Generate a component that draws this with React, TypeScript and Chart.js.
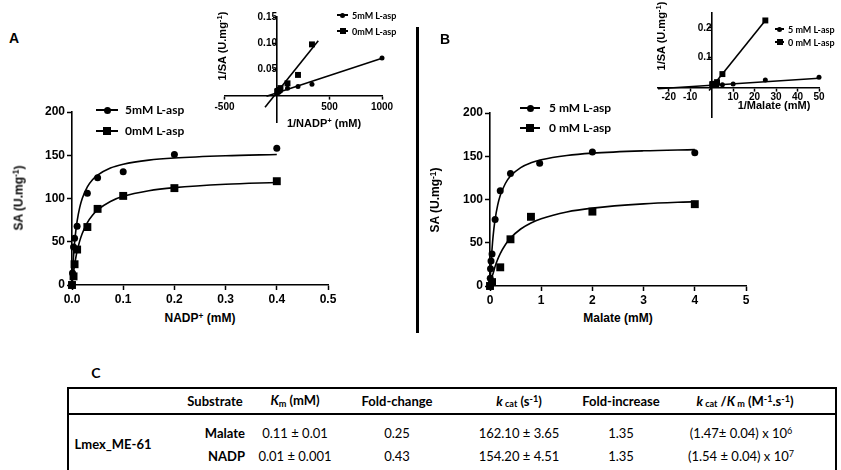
import React, { useEffect, useRef } from "react";
import { Chart, registerables } from "chart.js";
Chart.register(...registerables);

// ---------- Panel A : NADP+ ----------
const nadp5X = [0, 0.001, 0.003, 0.005, 0.01, 0.03, 0.05, 0.1, 0.2, 0.4];
const nadp5Y = [0, 14, 44, 54, 68, 106, 124, 131, 151, 158];
const nadp0X = [0, 0.003, 0.005, 0.01, 0.03, 0.05, 0.1, 0.2, 0.4];
const nadp0Y = [0, 10, 24, 41, 67, 88, 103, 112, 120];
const nadpFitX = [0, 0.0025, 0.005, 0.0075, 0.01, 0.015, 0.02, 0.03, 0.04, 0.05, 0.075, 0.1, 0.15, 0.2, 0.3, 0.4];
const nadpFit5 = [0, 28.7, 48.4, 62.8, 73.8, 89.4, 100, 113.4, 121.6, 127, 135.2, 139.6, 144.4, 146.9, 149.5, 150.9];
const nadpFit0 = [0, 12.8, 23.1, 31.8, 39.1, 50.7, 59.5, 72.1, 80.6, 86.8, 96.6, 102.5, 109, 112.6, 116.5, 118.5];
const nadpXTicks = [0, 0.1, 0.2, 0.3, 0.4, 0.5];
const nadpXLabels = ["0.0", "0.1", "0.2", "0.3", "0.4", "0.5"];
const saTicks = [0, 50, 100, 150, 200];
const saLabels = ["0", "50", "100", "150", "200"];

// Inset A : Lineweaver-Burk
const lbA5X = [1000, 333, 200, 100, 33, 20, 10, 5, 2.5];
const lbA5Y = [0.072, 0.0225, 0.018, 0.0146, 0.0094, 0.0081, 0.0077, 0.0066, 0.0063];
const lbA0X = [333, 200, 100, 33, 20, 10, 5, 2.5];
const lbA0Y = [0.098, 0.04, 0.024, 0.015, 0.0114, 0.0097, 0.0089, 0.0083];
const lineA5X = [-100, 1000];
const lineA5Y = [-0.0005, 0.0716];
const lineA0X = [-114, 393];
const lineA0Y = [-0.0215, 0.105];
const insetAXTicks = [-500, 500, 1000];
const insetAXLabels = ["-500", "500", "1000"];
const insetAYTicks = [0.05, 0.1, 0.15];
const insetAYLabels = ["0.05", "0.10", "0.15"];

// ---------- Panel B : Malate ----------
const mal5X = [0, 0.005, 0.01, 0.02, 0.04, 0.1, 0.2, 0.4, 0.97, 2, 4];
const mal5Y = [0, 9, 20, 29, 37, 77, 110, 130, 142, 155, 154];
const mal0X = [0, 0.04, 0.2, 0.4, 0.8, 2, 4];
const mal0Y = [0, 4.5, 21.6, 54, 80, 86, 94.6];
const malFitX = [0, 0.0125, 0.025, 0.05, 0.075, 0.1, 0.15, 0.2, 0.3, 0.4, 0.6, 0.8, 1, 1.5, 2, 3, 4];
const malFit5 = [0, 16.5, 30, 50.6, 65.7, 77.1, 93.5, 104.5, 118.5, 127.1, 136.9, 142.4, 145.9, 150.9, 153.6, 156.3, 157.7];
const malFit0 = [0, 3.5, 6.7, 12.7, 17.2, 22.7, 30.8, 37.5, 47.7, 55.4, 65.9, 72.9, 77.8, 85.6, 90, 94.9, 97.6];
const malXTicks = [0, 1, 2, 3, 4, 5];
const malXLabels = ["0", "1", "2", "3", "4", "5"];

// Inset B : Lineweaver-Burk
const lbB5X = [50, 25, 10, 5, 2.5, 1, 0.5, 0.25];
const lbB5Y = [0.034, 0.025, 0.012, 0.009, 0.0077, 0.007, 0.0065, 0.0065];
const lbB0X = [25, 5, 2.5, 1.25, 0.5, 0.25];
const lbB0Y = [0.225, 0.045, 0.018, 0.0125, 0.0116, 0.0105];
const lineB5X = [-25, 50];
const lineB5Y = [-0.004, 0.031];
const lineB0X = [-1.2, 25];
const lineB0Y = [-0.01, 0.225];
const insetBXTicks = [-20, -10, 10, 20, 30, 40, 50];
const insetBXLabels = ["-20", "-10", "10", "20", "30", "40", "50"];
const insetBYTicks = [0.1, 0.2];
const insetBYLabels = ["0.1", "0.2"];

// Legends
const legendA = ["5mM L-asp", "0mM L-asp"];
const legendB = ["5 mM L-asp", "0 mM L-asp"];

// Table C
const tableHeaders = ["Substrate", "Km (mM)", "Fold-change", "kcat (s-1)", "Fold-increase", "kcat/Km (M-1.s-1)"];
const enzymeName = "Lmex_ME-61";
const substrates = ["Malate", "NADP"];
const kmValues = ["0.11 \u00b1 0.01", "0.01 \u00b1 0.001"];
const foldChanges = ["0.25", "0.43"];
const kcatValues = ["162.10 \u00b1 3.65", "154.20 \u00b1 4.51"];
const foldIncreases = ["1.35", "1.35"];
const effMantissa = ["(1.47\u00b1 0.04) x 10", "(1.54 \u00b1 0.04) x 10"];
const effExponent = ["6", "7"];

const CHART_FONT = "'Liberation Sans', Arial, sans-serif";
const TEXT_FONT = "Lato, 'Open Sans', sans-serif";

const zip = (xs: number[], ys: number[]) => xs.map((x, i) => ({ x, y: ys[i] }));

function lineDs(xs: number[], ys: number[], smooth: boolean) {
  return {
    data: zip(xs, ys),
    showLine: true,
    borderColor: "#000",
    borderWidth: 1.6,
    pointRadius: 0,
    cubicInterpolationMode: smooth ? "monotone" : "default",
    clip: false,
  };
}
function pointDs(xs: number[], ys: number[], style: string, r: number) {
  return {
    data: zip(xs, ys),
    showLine: false,
    pointStyle: style,
    pointRadius: r,
    backgroundColor: "#000",
    borderColor: "#000",
    borderWidth: 0,
    clip: false,
  };
}

function axis(min: number, max: number, values: number[], labels: string[], size: number, tickLen: number, pad: number, extra: any) {
  return {
    type: "linear",
    min,
    max,
    afterBuildTicks: (s: any) => {
      s.ticks = values.map((v) => ({ value: v }));
    },
    ticks: {
      color: "#000",
      autoSkip: false,
      maxRotation: 0,
      minRotation: 0,
      padding: pad,
      font: { family: CHART_FONT, size, weight: "bold" },
      callback: (v: number) => {
        const i = values.indexOf(v);
        return i >= 0 ? labels[i] : "";
      },
    },
    grid: {
      display: true,
      drawOnChartArea: false,
      drawTicks: true,
      tickLength: tickLen,
      color: "#000",
      tickColor: "#000",
      tickWidth: 1.5,
    },
    border: { display: true, color: "#000", width: 1.6 },
    ...extra,
  };
}

function baseOptions(padding: any, scales: any) {
  return {
    animation: false,
    responsive: false,
    maintainAspectRatio: false,
    layout: { padding },
    plugins: { legend: { display: false }, tooltip: { enabled: false } },
    scales,
  };
}

const configs: Record<string, () => any> = {
  mainA: () => ({
    type: "scatter",
    data: {
      datasets: [
        lineDs(nadpFitX, nadpFit5, true),
        lineDs(nadpFitX, nadpFit0, true),
        pointDs(nadp5X, nadp5Y, "circle", 3.5),
        pointDs(nadp0X, nadp0Y, "rect", 5.6),
      ],
    },
    options: baseOptions(
      { left: 27, right: 17, top: 12, bottom: 3 },
      {
        x: axis(0, 0.5, nadpXTicks, nadpXLabels, 12, 5, 2, { position: "bottom", afterFit: (s: any) => { s.height = 22; } }),
        y: axis(0, 200, saTicks, saLabels, 12, 5, 2, { position: "left", afterFit: (s: any) => { s.width = 45; } }),
      }
    ),
  }),
  mainB: () => ({
    type: "scatter",
    data: {
      datasets: [
        lineDs(malFitX, malFit5, true),
        lineDs(malFitX, malFit0, true),
        pointDs(mal5X, mal5Y, "circle", 3.5),
        pointDs(mal0X, mal0Y, "rect", 5.6),
      ],
    },
    options: baseOptions(
      { left: 25, right: 19, top: 13, bottom: 2 },
      {
        x: axis(0, 5, malXTicks, malXLabels, 12, 5, 2, { position: "bottom", afterFit: (s: any) => { s.height = 22; } }),
        y: axis(0, 200, saTicks, saLabels, 12, 5, 2, { position: "left", afterFit: (s: any) => { s.width = 45; } }),
      }
    ),
  }),
  insetA: () => ({
    type: "scatter",
    data: {
      datasets: [
        lineDs(lineA5X, lineA5Y, false),
        lineDs(lineA0X, lineA0Y, false),
        pointDs(lbA5X, lbA5Y, "circle", 2.5),
        pointDs(lbA0X, lbA0Y, "rect", 4.2),
      ],
    },
    options: baseOptions(
      { left: 24.5, right: 18, top: 17, bottom: 12.7 },
      {
        x: axis(-500, 1000, insetAXTicks, insetAXLabels, 10, 3, 2, { position: { y: 0 } }),
        y: axis(-0.05, 0.15, insetAYTicks, insetAYLabels, 10, 3, 2, { position: { x: 0 } }),
      }
    ),
  }),
  insetB: () => ({
    type: "scatter",
    data: {
      datasets: [
        lineDs(lineB5X, lineB5Y, false),
        lineDs(lineB0X, lineB0Y, false),
        pointDs(lbB5X, lbB5Y, "circle", 2.5),
        pointDs(lbB0X, lbB0Y, "rect", 4.2),
      ],
    },
    options: baseOptions(
      { left: 18, right: 21, top: 13, bottom: 12.7 },
      {
        x: axis(-25, 50, insetBXTicks, insetBXLabels, 10, 3, 1, { position: { y: 0 } }),
        y: axis(-0.1, 0.25, insetBYTicks, insetBYLabels, 10, 3, 2, { position: { x: 0 } }),
      }
    ),
  }),
};

function ChartBox(props: { id: string; left: number; top: number; width: number; height: number }) {
  const ref = useRef<HTMLCanvasElement>(null);
  useEffect(() => {
    const chart = new Chart(ref.current as HTMLCanvasElement, configs[props.id]());
    return () => chart.destroy();
  }, []);
  return (
    <canvas
      ref={ref}
      width={props.width}
      height={props.height}
      style={{ position: "absolute", left: props.left, top: props.top, width: props.width, height: props.height }}
    />
  );
}

function T(props: { x: number; y: number; size: number; bold?: boolean; font?: string; rotate?: boolean; align?: string; children: any }) {
  const tx = props.align === "left" ? "0" : props.align === "right" ? "-100%" : "-50%";
  return (
    <div
      style={{
        position: "absolute",
        left: props.x,
        top: props.y,
        transform: `translate(${tx}, -50%)${props.rotate ? " rotate(-90deg)" : ""}`,
        transformOrigin: props.rotate ? "50% 50%" : undefined,
        fontSize: props.size,
        fontWeight: props.bold ? "bold" : "normal",
        fontFamily: props.font || CHART_FONT,
        whiteSpace: "nowrap",
        lineHeight: 1,
        color: "#000",
      }}
    >
      {props.children}
    </div>
  );
}

const sup = (s: string) => <span style={{ fontSize: "0.7em", verticalAlign: "0.45em" }}>{s}</span>;
const sub = (s: string) => <span style={{ fontSize: "0.7em", verticalAlign: "-0.2em" }}>{s}</span>;

function LegendRow(props: { x1: number; x2: number; y: number; tx: number; label: string; shape: string; size: number; fs: number; font: string }) {
  const { x1, x2, y, tx, label, shape, size, fs, font } = props;
  return (
    <>
      <div style={{ position: "absolute", left: x1, top: y - 0.8, width: x2 - x1, height: 1.6, background: "#000" }} />
      <div
        style={{
          position: "absolute",
          left: (x1 + x2) / 2 - size / 2,
          top: y - size / 2,
          width: size,
          height: size,
          background: "#000",
          borderRadius: shape === "circle" ? "50%" : 0,
        }}
      />
      <T x={tx} y={y} size={fs} bold font={font} align="left">{label}</T>
    </>
  );
}

function Line(props: { l: number; t: number; w: number; h: number }) {
  return <div style={{ position: "absolute", left: props.l, top: props.t, width: props.w, height: props.h, background: "#000" }} />;
}

export default function App() {
  const colX = [215, 295, 397, 519, 621, 745];
  const rowY = [433, 456];
  return (
    <div style={{ position: "absolute", left: 0, top: 0, width: 841, height: 470, background: "#fff", overflow: "hidden" }}>
      <ChartBox id="mainA" left={0} top={100} width={345} height={210} />
      <ChartBox id="insetA" left={200} top={0} width={200} height={135} />
      <ChartBox id="mainB" left={420} top={100} width={345} height={210} />
      <ChartBox id="insetB" left={640} top={0} width={200} height={130} />

      {/* panel letters */}
      <T x={14} y={38} size={14} bold>A</T>
      <T x={445} y={39} size={14} bold>B</T>
      <T x={96} y={373} size={14} bold font={TEXT_FONT}>C</T>

      {/* divider */}
      <Line l={416} t={27} w={3} h={306} />

      {/* axis titles A */}
      <T x={18} y={198} size={12} bold rotate>SA (U.mg{sup("-1")})</T>
      <T x={200} y={318} size={12} bold>NADP{sup("+")} (mM)</T>
      <T x={222} y={46} size={11} bold rotate>1/SA (U.mg{sup("-1")})</T>
      <T x={324} y={123} size={11} bold>1/NADP{sup("+")} (mM)</T>

      {/* axis titles B */}
      <T x={435} y={200} size={12} bold rotate>SA (U.mg{sup("-1")})</T>
      <T x={618} y={318} size={12} bold>Malate (mM)</T>
      <T x={661} y={36} size={11} bold rotate>1/SA (U.mg{sup("-1")})</T>
      <T x={774} y={105} size={11} bold>1/Malate (mM)</T>

      {/* legends */}
      <LegendRow x1={96} x2={118} y={110} tx={125} label={legendA[0]} shape="circle" size={7} fs={12} font={TEXT_FONT} />
      <LegendRow x1={96} x2={118} y={131} tx={125} label={legendA[1]} shape="rect" size={8} fs={12} font={TEXT_FONT} />
      <LegendRow x1={520} x2={540} y={108} tx={549} label={legendB[0]} shape="circle" size={7} fs={12} font={TEXT_FONT} />
      <LegendRow x1={520} x2={540} y={128} tx={549} label={legendB[1]} shape="rect" size={8} fs={12} font={TEXT_FONT} />
      <LegendRow x1={337} x2={348} y={15} tx={352} label={legendA[0]} shape="circle" size={5} fs={9} font={TEXT_FONT} />
      <LegendRow x1={337} x2={348} y={31} tx={352} label={legendA[1]} shape="rect" size={6} fs={9} font={TEXT_FONT} />
      <LegendRow x1={775} x2={784} y={29} tx={788} label={legendB[0]} shape="circle" size={5} fs={9} font={TEXT_FONT} />
      <LegendRow x1={775} x2={784} y={42} tx={788} label={legendB[1]} shape="rect" size={6} fs={9} font={TEXT_FONT} />

      {/* table C */}
      <Line l={68} t={387} w={769} h={2} />
      <Line l={68} t={413} w={769} h={1.5} />
      <Line l={67} t={387} w={2} h={90} />
      <Line l={835} t={387} w={2} h={90} />

      <T x={colX[0]} y={401} size={13} bold font={TEXT_FONT}>{tableHeaders[0]}</T>
      <T x={colX[1]} y={401} size={13} bold font={TEXT_FONT}><i>K</i>{sub("m")} (mM)</T>
      <T x={colX[2]} y={401} size={13} bold font={TEXT_FONT}>{tableHeaders[2]}</T>
      <T x={colX[3]} y={401} size={13} bold font={TEXT_FONT}><i>k</i>{sub(" cat")} (s{sup("-1")})</T>
      <T x={colX[4]} y={401} size={13} bold font={TEXT_FONT}>{tableHeaders[4]}</T>
      <T x={colX[5]} y={401} size={13} bold font={TEXT_FONT}><i>k</i>{sub(" cat")} /<i>K</i>{sub(" m")} (M{sup("-1")}.s{sup("-1")})</T>

      <T x={113} y={444} size={13} bold font={TEXT_FONT}>{enzymeName}</T>
      {substrates.map((s, i) => (
        <React.Fragment key={s}>
          <T x={245} y={rowY[i]} size={13} bold font={TEXT_FONT} align="right">{s}</T>
          <T x={colX[1]} y={rowY[i]} size={13} font={TEXT_FONT}>{kmValues[i]}</T>
          <T x={colX[2]} y={rowY[i]} size={13} font={TEXT_FONT}>{foldChanges[i]}</T>
          <T x={colX[3]} y={rowY[i]} size={13} font={TEXT_FONT}>{kcatValues[i]}</T>
          <T x={colX[4]} y={rowY[i]} size={13} font={TEXT_FONT}>{foldIncreases[i]}</T>
          <T x={741} y={rowY[i]} size={13} font={TEXT_FONT}>{effMantissa[i]}{sup(effExponent[i])}</T>
        </React.Fragment>
      ))}
    </div>
  );
}
